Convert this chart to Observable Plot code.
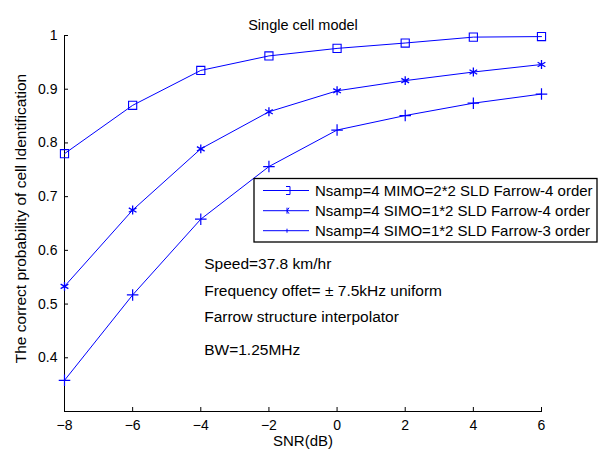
<!DOCTYPE html>
<html>
<head>
<meta charset="utf-8">
<script src="https://cdn.jsdelivr.net/npm/d3@7"></script>
<script src="https://cdn.jsdelivr.net/npm/@observablehq/plot@0.6"></script>
<style>
  body { margin: 0; background: #fff; }
  #chart svg { display: block; }
</style>
</head>
<body>
<div id="chart"></div>
<script>
const snr = [-8, -6, -4, -2, 0, 2, 4, 6];
const seriesNames = [
  "Nsamp=4 MIMO=2*2 SLD Farrow-4 order",
  "Nsamp=4 SIMO=1*2 SLD Farrow-4 order",
  "Nsamp=4 SIMO=1*2 SLD Farrow-3 order"
];
const mimo4 = [0.780, 0.870, 0.935, 0.962, 0.976, 0.986, 0.997, 0.998];
const simo4 = [0.533, 0.675, 0.789, 0.858, 0.897, 0.916, 0.932, 0.946];
const simo3 = [0.358, 0.517, 0.658, 0.756, 0.824, 0.851, 0.874, 0.891];
const symbols = ["square", "asterisk", "plus"];
const xTicks = [-8, -6, -4, -2, 0, 2, 4, 6];
const yTicks = [0.4, 0.5, 0.6, 0.7, 0.8, 0.9, 1];
const annotations = [
  {text: "Speed=37.8 km/hr", x: -3.9, y: 0.574},
  {text: "Frequency offet= \u00b1 7.5kHz uniform", x: -3.9, y: 0.524},
  {text: "Farrow structure interpolator", x: -3.9, y: 0.476},
  {text: "BW=1.25MHz", x: -3.9, y: 0.414}
];
const titleText = "Single cell model";
const xLabel = "SNR(dB)";
const yLabel = "The correct probability of cell Identification";

const allSeries = [mimo4, simo4, simo3];
const data = [];
allSeries.forEach((vals, i) => vals.forEach((v, j) => data.push({series: seriesNames[i], sym: symbols[i], x: snr[j], y: v})));

const blue = "#0000ff";
const font = "Liberation Sans, Arial, Helvetica, sans-serif";

const plot = Plot.plot({
  width: 606,
  height: 450,
  marginLeft: 64,
  marginRight: 65,
  marginTop: 35,
  marginBottom: 39,
  style: {fontFamily: font, fontSize: "14px", background: "#fff", color: "#000"},
  x: {domain: [-8, 6], ticks: xTicks},
  y: {domain: [0.3, 1], ticks: yTicks},
  marks: [
    Plot.frame({anchor: "left", stroke: "#000"}),
    Plot.frame({anchor: "bottom", stroke: "#000"}),
    Plot.axisX({ticks: xTicks, tickSize: -4, tickPadding: 13, label: null, fontSize: 14}),
    Plot.axisY({ticks: yTicks, tickSize: -4, tickPadding: 11, label: null, fontSize: 14, tickFormat: d3.format("~g")}),
    Plot.line(data, {x: "x", y: "y", z: "series", stroke: blue, strokeWidth: 1}),
    Plot.dot(data.filter(d => d.sym === "square"), {x: "x", y: "y", symbol: "square", r: 4.6, stroke: blue, fill: "none", strokeWidth: 1.1}),
    Plot.dot(data.filter(d => d.sym === "asterisk"), {x: "x", y: "y", symbol: "asterisk", r: 4.2, stroke: blue, fill: "none", strokeWidth: 1.3}),
    Plot.dot(data.filter(d => d.sym === "plus"), {x: "x", y: "y", symbol: "plus", r: 3.8, stroke: blue, fill: "none", strokeWidth: 1.2}),
    Plot.text(annotations, {x: "x", y: "y", text: "text", textAnchor: "start", fontSize: 15.5, fill: "#000"}),
    Plot.text([titleText], {frameAnchor: "top", textAnchor: "middle", dy: -16, fontSize: 14.5, fill: "#000"}),
    Plot.text([xLabel], {frameAnchor: "bottom", textAnchor: "middle", dy: 34, fontSize: 15, fill: "#000"}),
    Plot.text([yLabel], {frameAnchor: "left", textAnchor: "middle", dx: -43, dy: -5, rotate: -90, fontSize: 15.5, fill: "#000"})
  ]
});

// Legend box (MATLAB-style), drawn into the same SVG
const svg = d3.select(plot);
const lg = svg.append("g").attr("font-family", font).attr("font-size", 15).attr("text-anchor", "start");
const box = {x: 254, y: 178.5, w: 343, h: 63.5};
lg.append("rect").attr("x", box.x).attr("y", box.y).attr("width", box.w).attr("height", box.h)
  .attr("fill", "#fff").attr("stroke", "#000").attr("stroke-width", 1.3);
const rowY = [190.5, 210.7, 230.7];
seriesNames.forEach((name, i) => {
  const y = rowY[i];
  lg.append("line").attr("x1", 263).attr("x2", 309).attr("y1", y).attr("y2", y).attr("stroke", blue).attr("stroke-width", 1);
  const mx = 287;
  if (i === 0) {
    lg.append("path").attr("d", `M${mx - 1},${y - 4}H${mx + 3}V${y + 4}H${mx - 1}`).attr("fill", "none").attr("stroke", blue);
  } else if (i === 1) {
    lg.append("path").attr("d", `M${mx + 2},${y - 3}L${mx},${y}L${mx + 2},${y + 3}M${mx},${y - 3}V${y + 3}`).attr("fill", "none").attr("stroke", blue);
  } else {
    lg.append("path").attr("d", `M${mx},${y - 2}V${y + 2}`).attr("fill", "none").attr("stroke", blue);
  }
  lg.append("text").attr("x", 315).attr("y", y).attr("dy", "0.35em").attr("fill", "#000").attr("text-anchor", "start").text(name);
});

document.getElementById("chart").appendChild(plot);
</script>
</body>
</html>
